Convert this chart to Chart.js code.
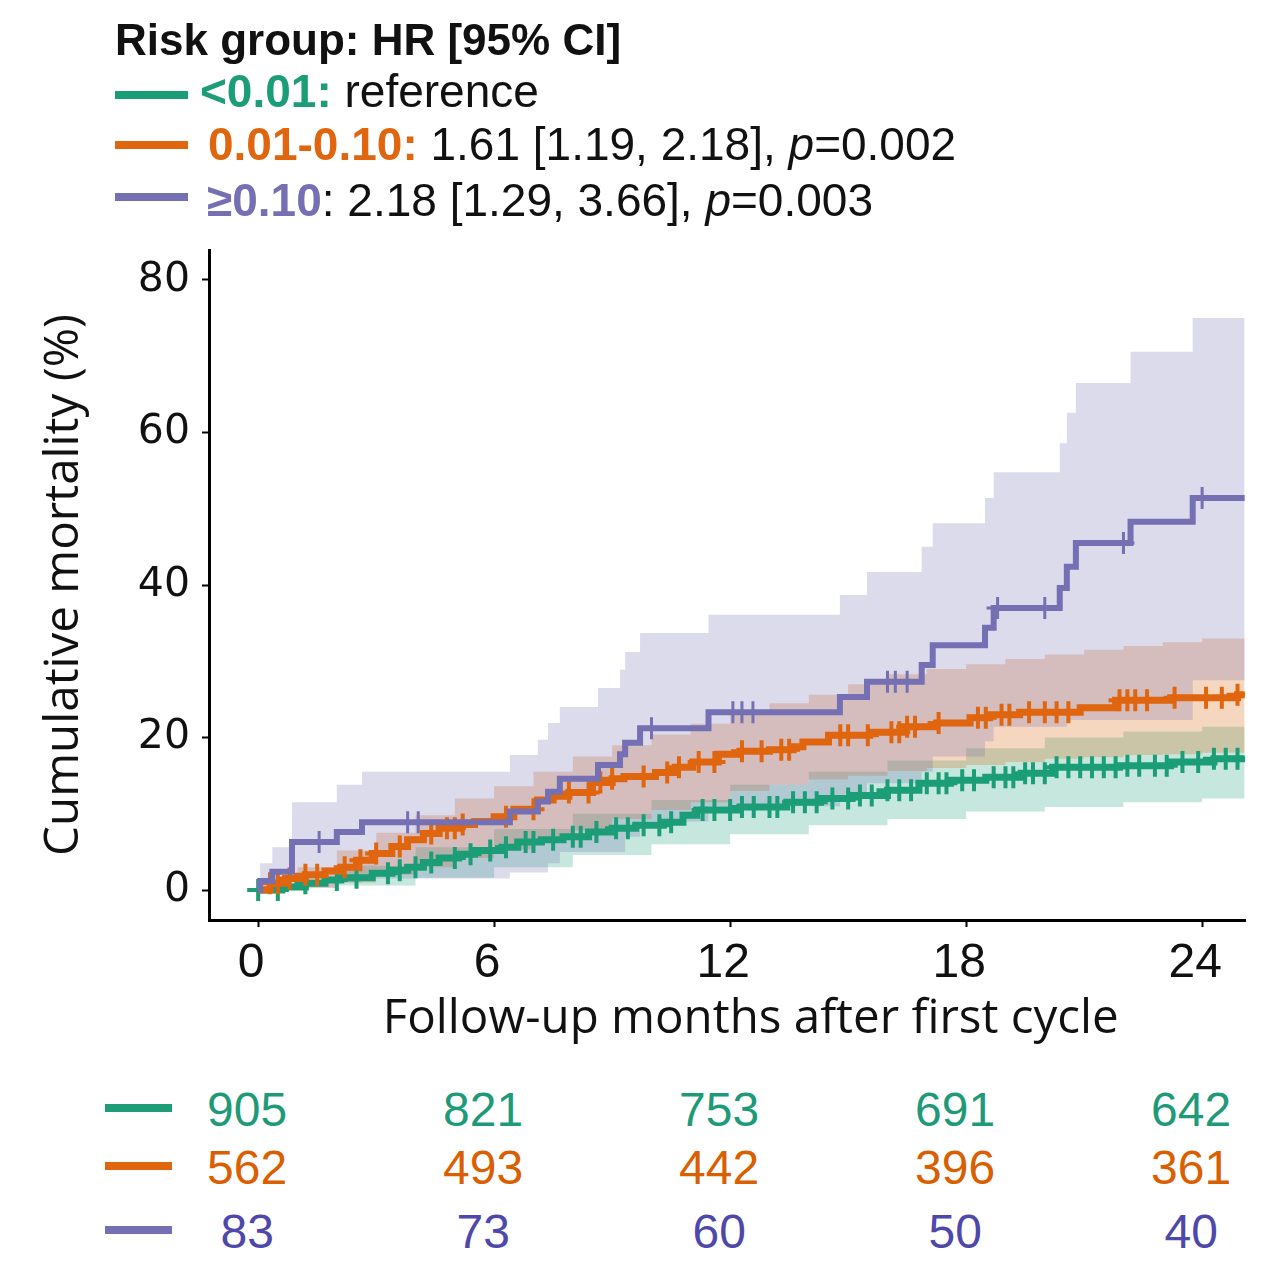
<!DOCTYPE html>
<html>
<head>
<meta charset="utf-8">
<script src="https://cdn.jsdelivr.net/npm/chart.js@4.4.1/dist/chart.umd.min.js"></script>
<style>
  body { margin: 0; background: #fff; width: 1280px; height: 1271px; position: relative; overflow: hidden; }
  #wrap { position: absolute; left: 0; top: 0; width: 1280px; height: 1050px; }
  .t { position: absolute; font-family: "Liberation Sans", Arial, sans-serif; font-size: 46px; line-height: 46px; white-space: nowrap; color: #111; }
  .sw { position: absolute; height: 8px; }
  .n { position: absolute; font-family: "Liberation Sans", Arial, sans-serif; font-size: 48px; line-height: 48px; white-space: nowrap; transform: translateX(-50%); }
</style>
</head>
<body>
<div id="wrap"><canvas id="km"></canvas></div>

<div class="t" style="left:115px; top:18px; font-size:44px; line-height:44px; font-weight:bold;">Risk group: HR [95% CI]</div>
<div class="sw" style="left:115px; top:91px; width:73px; background:#1b9e77"></div>
<div class="t" style="left:200px; top:68px;"><b style="color:#1b9e77">&lt;0.01:</b> reference</div>
<div class="sw" style="left:115px; top:141px; width:73px; background:#e0650f"></div>
<div class="t" style="left:208px; top:121px;"><b style="color:#e0650f">0.01-0.10:</b> 1.61 [1.19, 2.18], <i>p</i>=0.002</div>
<div class="sw" style="left:115px; top:193px; width:73px; background:#7570b3"></div>
<div class="t" style="left:207px; top:177px;"><b style="color:#7570b3">≥0.10</b>: 2.18 [1.29, 3.66], <i>p</i>=0.003</div>

<div id="risk"></div>

<script>
// axis ticks
const xTicks = [0, 6, 12, 18, 24];
const yTicks = [0, 20, 40, 60, 80];

// numbers at risk
const riskTimes = [0, 6, 12, 18, 24];
const riskLow = [905, 821, 753, 691, 642];
const riskMid = [562, 493, 442, 396, 361];
const riskHigh = [83, 73, 60, 50, 40];

// <0.01 group (green)
const greenTime = [0, 0.6, 1.2, 1.7, 2.1, 2.9, 3.4, 3.8, 4.2, 4.6, 5.1, 5.5, 6.2, 6.6, 7.2, 7.75, 8.4, 9.0, 9.6, 10.3,
  10.8, 11.15, 12.25, 13.44, 14.3, 15.1, 16.0, 16.8, 17.6, 18.5, 19.4, 20.2, 21.9, 23.2, 24.3, 25.08];
const greenPct = [0, 0.4, 0.9, 1.3, 1.6, 2.2, 2.6, 3.0, 3.6, 4.2, 4.7, 5.2, 5.6, 6.3, 6.6, 7.0, 7.6, 8.1, 8.5, 8.9,
  9.8, 10.5, 10.9, 11.5, 12.0, 12.4, 13.1, 14.0, 14.4, 14.8, 15.3, 16.1, 16.3, 16.8, 17.2, 17.4];
const greenLoTime = [0, 2, 4, 6, 8, 10, 12, 14, 16, 18, 20, 22, 24, 25.08];
const greenLoPct = [0, 0.6, 1.6, 3.0, 4.6, 6.0, 7.3, 8.5, 9.3, 10.3, 10.9, 11.5, 12.0, 12.2];
const greenHiTime = [0, 2, 4, 6, 8, 10, 12, 14, 16, 18, 20, 22, 24, 25.08];
const greenHiPct = [0, 3.2, 5.6, 8.0, 10.0, 11.8, 13.8, 15.5, 17.0, 18.6, 20.0, 20.8, 21.4, 21.6];
const greenCensor = [0, 0.5, 1.2, 2.0, 2.5, 3.3, 3.6, 4.0, 4.4, 5.0, 5.4, 5.9, 6.3, 6.8, 7.0, 7.5, 8.0, 8.2, 8.6, 9.1,
  9.4, 9.8, 10.2, 10.5, 11.3, 11.6, 12.0, 12.3, 12.6, 13.0, 13.2, 13.6, 13.9, 14.2, 14.6, 15.0, 15.3, 15.6, 16.0, 16.3,
  16.6, 17.0, 17.3, 17.5, 17.9, 18.2, 18.7, 19.0, 19.2, 19.5, 19.7, 20.0, 20.3, 20.6, 20.9, 21.2, 21.5, 21.8, 22.1,
  22.4, 22.8, 23.1, 23.5, 23.9, 24.3, 24.6, 24.9];

// 0.01-0.10 group (orange)
const orangeTime = [0, 0.3, 0.7, 1.2, 1.7, 2.1, 2.5, 2.9, 3.4, 3.8, 4.2, 4.6, 5.1, 5.5, 6.0, 6.5, 7.1, 7.5, 7.9, 8.5,
  9.0, 9.3, 10.1, 10.6, 11.05, 11.7, 12.25, 13.0, 13.6, 13.85, 14.5, 15.55, 16.4, 17.25, 18.1, 18.6, 19.36, 20.9, 21.8,
  23.2, 24.9, 25.08];
const orangePct = [0, 0.9, 1.5, 2.0, 2.5, 3.0, 3.9, 4.8, 5.7, 6.6, 7.4, 8.1, 8.6, 9.0, 9.6, 10.6, 11.8, 12.3, 12.8, 14.1,
  14.6, 14.9, 15.4, 16.1, 16.8, 17.8, 18.2, 18.4, 18.8, 19.4, 20.3, 20.7, 21.4, 21.9, 22.6, 23.0, 23.3, 23.9, 24.9,
  25.2, 25.6, 25.6];
const orangeLoTime = [0, 1, 2, 3, 4, 5, 6, 7, 8, 9, 10, 11, 12, 13, 14, 15, 16, 17, 18, 19, 20, 21, 22, 23, 24, 25.08];
const orangeLoPct = [0, 0.3, 1.0, 2.0, 3.0, 4.2, 5.3, 6.6, 7.8, 9.3, 10.5, 11.5, 13.0, 13.8, 14.5, 15.0, 15.6, 16.0,
  16.4, 16.8, 17.2, 17.4, 17.7, 17.8, 18.0, 18.2];
const orangeHiTime = [0, 1, 2, 3, 4, 5, 6, 7, 8, 9, 10, 11, 12, 13, 14, 15, 16, 17, 18, 19, 20, 21, 22, 23, 24, 25.08];
const orangeHiPct = [0, 3.0, 5.2, 7.5, 9.8, 12.0, 13.6, 15.5, 17.5, 19.0, 20.4, 21.8, 23.3, 24.5, 25.6, 27.0, 28.3,
  29.0, 29.6, 30.3, 30.9, 31.5, 32.0, 32.5, 33.0, 33.3];
const orangeCensor = [0.3, 0.5, 0.8, 1.2, 1.5, 2.2, 2.6, 3.0, 3.6, 4.4, 4.8, 5.0, 5.2, 6.3, 7.0, 7.9, 8.4, 8.7, 9.0,
  9.8, 10.4, 10.7, 11.2, 11.6, 12.3, 12.8, 13.3, 13.5, 14.8, 15.0, 15.5, 16.1, 16.3, 16.5, 16.7, 17.3, 18.3, 18.5, 18.9,
  19.1, 19.6, 20.0, 20.3, 20.6, 21.9, 22.1, 22.3, 22.6, 23.3, 24.1, 24.5, 24.9];

// >=0.10 group (purple)
const purpleTime = [0, 0.05, 0.36, 0.86, 2.0, 2.64, 6.4, 7.11, 7.37, 7.67, 8.64, 9.2, 9.33, 9.71, 11.45, 14.79, 15.48,
  16.87, 17.15, 18.48, 18.7, 20.38, 20.56, 20.79, 22.18, 23.76, 25.08];
const purplePct = [0, 1.2, 2.4, 6.3, 7.6, 8.9, 10.3, 11.6, 12.9, 14.6, 16.4, 17.8, 19.3, 21.2, 23.3, 25.3, 27.3, 29.5,
  32.1, 34.4, 37.0, 39.6, 42.4, 45.5, 48.3, 51.4, 51.4];
const purpleLoTime = [0, 0.86, 2.0, 2.64, 6.4, 7.37, 7.67, 9.33, 9.71, 11.45, 14.79, 15.48, 16.87, 17.15, 18.48, 18.7,
  20.56, 23.76, 25.08];
const purpleLoPct = [0, 0.3, 1.0, 1.5, 2.3, 3.5, 5.0, 7.0, 9.0, 11.0, 12.5, 14.0, 15.5, 17.5, 19.5, 21.4, 22.3, 27.5, 27.5];
const purpleHiTime = [0, 0.05, 0.36, 0.86, 2.0, 2.64, 6.4, 7.11, 7.37, 7.67, 8.64, 9.2, 9.33, 9.71, 11.45, 14.79, 15.48,
  16.87, 17.15, 18.48, 18.7, 20.38, 20.56, 20.79, 22.18, 23.76, 25.08];
const purpleHiPct = [0, 3.5, 5.6, 11.5, 13.8, 15.5, 17.7, 19.7, 21.9, 24.0, 26.5, 28.9, 31.2, 33.7, 36.1, 38.7, 41.7,
  45.0, 48.1, 51.4, 54.8, 58.6, 62.6, 66.5, 70.6, 75.0, 75.0];
const purpleCensor = [1.55, 3.8, 4.07, 10.0, 12.07, 12.3, 12.58, 16.0, 16.2, 16.5, 18.8, 20.0, 22.0, 24.0];

const groups = [
  { line: '#1b9e77', band: 'rgba(27,158,119,0.25)', width: 7, mark: 4, t: greenTime, v: greenPct,
    loT: greenLoTime, loV: greenLoPct, hiT: greenHiTime, hiV: greenHiPct, cens: greenCensor },
  { line: '#e0650f', band: 'rgba(217,95,2,0.25)', width: 7, mark: 4, t: orangeTime, v: orangePct,
    loT: orangeLoTime, loV: orangeLoPct, hiT: orangeHiTime, hiV: orangeHiPct, cens: orangeCensor },
  { line: '#7570b3', band: 'rgba(117,112,179,0.25)', width: 6, mark: 3, t: purpleTime, v: purplePct,
    loT: purpleLoTime, loV: purpleLoPct, hiT: purpleHiTime, hiV: purpleHiPct, cens: purpleCensor }
];

const xy = (ts, vs) => ts.map((t, i) => ({ x: t, y: vs[i] }));

// value of a step curve at time t (for placing censor marks on the curve)
function stepAt(ts, vs, t) {
  let v = vs[0];
  for (let i = 0; i < ts.length; i++) if (ts[i] <= t) v = vs[i];
  return v;
}

const datasets = [];
groups.forEach((g, k) => {
  const loIndex = datasets.length;
  datasets.push({ data: xy(g.loT, g.loV), borderColor: 'rgba(0,0,0,0)', borderWidth: 1, pointRadius: 0,
    stepped: true, fill: false, order: 20 + (2 - k) });
  datasets.push({ data: xy(g.hiT, g.hiV), borderColor: 'rgba(0,0,0,0)', borderWidth: 1, pointRadius: 0,
    backgroundColor: g.band, stepped: true, fill: loIndex, order: 20 + (2 - k) });
});
groups.forEach((g, k) => {
  datasets.push({ data: xy(g.t, g.v), borderColor: g.line, borderWidth: g.width, pointRadius: 0,
    stepped: true, fill: false, order: 10 - 3 * k + 1 });
  datasets.push({ data: g.cens.map(t => ({ x: t, y: stepAt(g.t, g.v, t) })), showLine: false,
    pointStyle: 'cross', pointRadius: 11, pointBorderWidth: g.mark, borderColor: g.line, backgroundColor: g.line,
    order: 10 - 3 * k });
});

const chart = new Chart(document.getElementById('km'), {
  type: 'line',
  data: { datasets: datasets },
  options: {
    responsive: true,
    maintainAspectRatio: false,
    animation: false,
    layout: { padding: { left: 0, right: 35, top: 250, bottom: 0 } },
    plugins: { legend: { display: false }, tooltip: { enabled: false } },
    scales: {
      x: {
        type: 'linear', min: -1.25, max: 25.09,
        afterFit: s => { s.height = 130; },
        afterBuildTicks: s => { s.ticks = xTicks.map(v => ({ value: v })); },
        border: { color: '#000', width: 3 },
        grid: { drawOnChartArea: false, tickLength: 7, tickWidth: 2, color: '#000' },
        ticks: { font: { family: 'Liberation Sans', size: 48 }, color: '#111', padding: 8, labelOffset: -7,
          maxRotation: 0, autoSkip: false },
        title: { display: true, text: '\u2003Follow-up months after first cycle',
          font: { family: 'Open Sans', size: 47.5 }, color: '#111', padding: { top: 0, bottom: 2 } }
      },
      y: {
        type: 'linear', min: -3.93, max: 83.93,
        afterFit: s => { s.width = 209; },
        afterBuildTicks: s => { s.ticks = yTicks.map(v => ({ value: v })); },
        border: { color: '#000', width: 3 },
        grid: { drawOnChartArea: false, tickLength: 7, tickWidth: 2, color: '#000' },
        ticks: { font: { family: 'DejaVu Sans', size: 41 }, color: '#111', padding: 12 },
        title: { display: true, text: 'Cumulative mortality (%)',
          font: { family: 'Open Sans', size: 47.5 }, color: '#111', padding: { top: 36, bottom: 0 } }
      }
    }
  }
});

// numbers-at-risk table under the axis, columns placed on the x scale
const risk = document.getElementById('risk');
const rows = [
  { vals: riskLow, color: '#1f9a78', swatch: '#1b9e77', top: 1086 },
  { vals: riskMid, color: '#d95f02', swatch: '#e0650f', top: 1144 },
  { vals: riskHigh, color: '#4e48aa', swatch: '#7570b3', top: 1208 }
];
rows.forEach(r => {
  const sw = document.createElement('div');
  sw.className = 'sw';
  sw.style.cssText = 'left:105px; width:67px; top:' + (r.top + 18) + 'px; background:' + r.swatch;
  risk.appendChild(sw);
  riskTimes.forEach((t, i) => {
    const el = document.createElement('div');
    el.className = 'n';
    el.textContent = r.vals[i];
    el.style.left = (chart.scales.x.getPixelForValue(t) - 11) + 'px';
    el.style.top = r.top + 'px';
    el.style.color = r.color;
    risk.appendChild(el);
  });
});
</script>
</body>
</html>
